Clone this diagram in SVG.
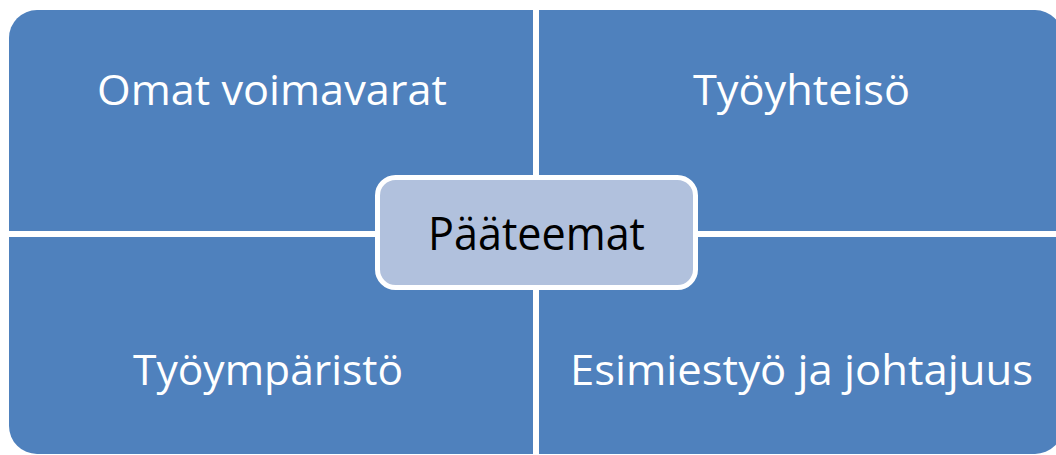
<svg xmlns="http://www.w3.org/2000/svg" width="1056" height="455" viewBox="0 0 1056 455">
  <style>
    .quad { fill: #4F81BD; }
    .qlabel { font-family: "Open Sans", "Noto Sans", sans-serif; font-size: 42px; fill: #FFFFFF; text-anchor: middle; }
    .hub { fill: #B1C1DD; stroke: #FFFFFF; stroke-width: 5; }
    .hlabel { font-family: "Open Sans", "Noto Sans", sans-serif; font-size: 45px; fill: #000000; text-anchor: middle; }
  </style>
  <rect width="1056" height="455" fill="#FFFFFF"/>

  <!-- four quadrants, each rounded only on its outer corner -->
  <g id="quad-top-left">
    <path class="quad" d="M9,38 A28,28 0 0 1 37,10 L533,10 L533,231 L9,231 Z"/>
    <text class="qlabel" x="272" y="105" textLength="350" lengthAdjust="spacingAndGlyphs">Omat voimavarat</text>
  </g>
  <g id="quad-top-right">
    <path class="quad" d="M539,10 L1035,10 A28,28 0 0 1 1063,38 L1063,231 L539,231 Z"/>
    <text class="qlabel" x="801.5" y="105" textLength="217" lengthAdjust="spacingAndGlyphs">Työyhteisö</text>
  </g>
  <g id="quad-bottom-left">
    <path class="quad" d="M9,237 L533,237 L533,454 L37,454 A28,28 0 0 1 9,426 Z"/>
    <text class="qlabel" x="268" y="385" textLength="270" lengthAdjust="spacingAndGlyphs">Työympäristö</text>
  </g>
  <g id="quad-bottom-right">
    <path class="quad" d="M539,237 L1063,237 L1063,426 A28,28 0 0 1 1035,454 L539,454 Z"/>
    <text class="qlabel" x="801.5" y="385" textLength="463" lengthAdjust="spacingAndGlyphs">Esimiestyö ja johtajuus</text>
  </g>

  <!-- central topic box -->
  <g id="hub">
    <rect class="hub" x="377.5" y="177.5" width="318" height="110" rx="18" ry="18"/>
    <text class="hlabel" x="536.5" y="250" textLength="217" lengthAdjust="spacingAndGlyphs">Pääteemat</text>
  </g>
</svg>
